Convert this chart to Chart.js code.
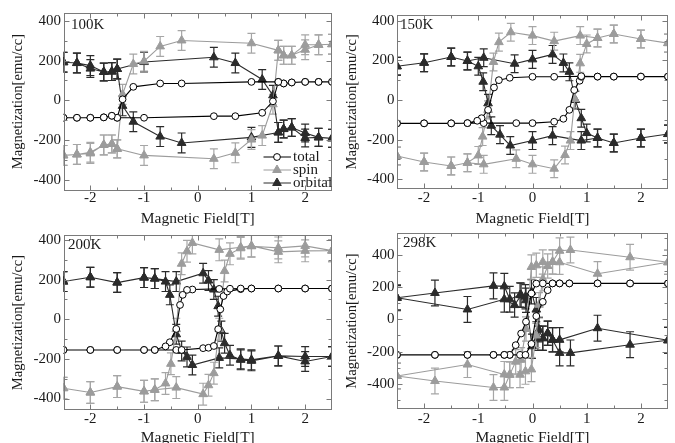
<!DOCTYPE html>
<html><head><meta charset="utf-8">
<script src="https://cdn.jsdelivr.net/npm/chart.js@4.4.0/dist/chart.umd.min.js"></script>
<style>
html,body{margin:0;padding:0;background:#fff;overflow:hidden;width:675px;height:443px;position:relative}
canvas{position:absolute}
</style></head><body>
<canvas id="c1"></canvas><canvas id="c2"></canvas><canvas id="c3"></canvas><canvas id="c4"></canvas>
<script>
// ---- tick labels ----
const fieldTicks = [-2, -1, 0, 1, 2];
const fieldMinor = [-1.5, -0.5, 0.5, 1.5];
const magTicks = [-400, -200, 0, 200, 400];
const magMinor = [-500, -300, -100, 100, 300, 500];
const seriesNames = ['total', 'spin', 'orbital'];
const panelLabels = ['100K', '150K', '200K', '298K'];
const xTitle = 'Magnetic Field[T]';
const yTitle = 'Magnetization[emu/cc]';

// ---- data: [field (T), magnetization (emu/cc), error] ; Up = field rising, Down = field falling ----
const total100Up = [[-2.5,-88],[-2.25,-88],[-2.0,-88],[-1.75,-86],[-1.6,-78],[-1.5,-88],[-1.0,-88],[0.3,-80],[0.7,-80],[1.2,-63],[1.4,-5],[1.5,93],[1.6,85],[1.75,90],[2.0,93],[2.25,93],[2.5,93]];
const total100Down = [[2.5,93],[2.25,93],[2.0,93],[1.75,90],[1.6,85],[1.5,93],[1.0,93],[-0.3,85],[-0.7,85],[-1.2,68],[-1.4,5],[-1.5,-88],[-1.6,-78],[-1.75,-86],[-2.0,-88],[-2.25,-88],[-2.5,-88]];
const spin100Up = [[-2.5,-278,50],[-2.25,-273,50],[-2.0,-262,50],[-1.75,-225,50],[-1.6,-220,45],[-1.5,-245,45],[-1.0,-278,50],[0.3,-295,50],[0.7,-265,50],[1.0,-198,50],[1.2,-178,50],[1.4,-20,50],[1.5,252,50],[1.6,227,45],[1.75,227,45],[2.0,255,50],[2.25,280,50],[2.5,283,50]];
const spin100Down = [[2.5,283,50],[2.25,280,50],[2.0,280,50],[1.75,227,45],[1.6,227,45],[1.5,252,50],[1.0,288,50],[-0.3,302,50],[-0.7,272,50],[-1.0,197,50],[-1.2,183,50],[-1.4,30,50],[-1.5,-245,45],[-1.6,-220,45],[-1.75,-225,50],[-2.0,-268,50],[-2.25,-273,50],[-2.5,-278,50]];
const orbital100Up = [[-2.5,192,50],[-2.25,188,50],[-2.0,175,50],[-1.75,143,45],[-1.6,145,45],[-1.5,158,50],[-1.0,193,50],[0.3,217,50],[0.7,188,50],[1.2,105,50],[1.4,25,50],[1.5,-162,50],[1.6,-145,45],[1.75,-137,45],[2.0,-165,45],[2.25,-187,45],[2.5,-192,45]];
const orbital100Down = [[2.5,-192,45],[2.25,-187,45],[2.0,-190,45],[1.75,-137,45],[1.6,-145,45],[1.5,-162,50],[1.0,-187,50],[-0.3,-215,50],[-0.7,-183,50],[-1.2,-108,50],[-1.4,-28,50],[-1.5,158,50],[-1.6,145,45],[-1.75,143,45],[-2.0,160,45],[-2.25,188,50],[-2.5,192,50]];

const total150Up = [[-2.5,-118],[-2.0,-118],[-1.5,-118],[-1.2,-117],[-0.9,-117],[-0.3,-117],[0,-117],[0.4,-110],[0.57,-95],[0.68,-50],[0.77,50],[0.87,97],[0.9,117],[1.2,118],[1.5,118],[2.0,118],[2.5,118]];
const total150Down = [[2.5,118],[2.0,118],[1.5,118],[1.2,118],[0.9,120],[0.4,117],[0,117],[-0.42,112],[-0.62,100],[-0.71,63],[-0.82,-50],[-0.94,-92],[-1.02,-105],[-1.2,-117],[-1.5,-118],[-2.0,-118],[-2.5,-118]];
const spin150Up = [[-2.5,-283,45],[-2.0,-313,45],[-1.5,-333,45],[-1.2,-317,45],[-0.9,-325,45],[-0.3,-297,45],[0,-325,45],[0.4,-347,45],[0.6,-278,45],[0.7,-205,45],[0.78,5,45],[0.88,185,45],[1.0,283,45],[1.2,313,45],[1.5,333,45],[2.0,308,45],[2.5,287,45]];
const spin150Down = [[2.5,287,45],[2.0,308,45],[1.5,333,45],[1.2,313,45],[0.88,325,45],[0.4,297,45],[0,325,45],[-0.4,342,45],[-0.62,292,45],[-0.72,192,45],[-0.82,-50,45],[-0.92,-185,45],[-1.0,-280,45],[-1.2,-317,45],[-1.5,-333,45],[-2.0,-313,45],[-2.5,-283,45]];
const orbital150Up = [[-2.5,170,45],[-2.0,188,45],[-1.5,217,45],[-1.2,197,45],[-0.9,213,45],[-0.33,183,45],[0,205,45],[0.37,230,45],[0.57,187,45],[0.68,142,45],[0.79,0,45],[0.9,-92,45],[1.0,-167,45],[1.2,-192,45],[1.5,-217,45],[2.0,-192,45],[2.5,-172,45]];
const orbital150Down = [[2.5,-172,45],[2.0,-192,45],[1.5,-217,45],[1.2,-192,45],[0.9,-205,45],[0.37,-180,45],[0,-205,45],[-0.41,-230,45],[-0.6,-175,45],[-0.76,-130,45],[-0.82,-17,45],[-0.91,92,45],[-1.0,170,45],[-1.2,197,45],[-1.5,217,45],[-2.0,188,45],[-2.5,170,45]];

const total200Up = [[-2.5,-155],[-2.0,-155],[-1.5,-155],[-1.0,-155],[-0.8,-155],[-0.4,-155],[-0.3,-155],[0.1,-146],[0.2,-144],[0.3,-135],[0.38,-50],[0.42,50],[0.48,117],[0.55,140],[0.8,152],[1.0,155],[1.5,155],[2.0,155],[2.5,155]];
const total200Down = [[2.5,155],[2.0,155],[1.5,155],[1.0,155],[0.8,155],[0.6,154],[0.4,153],[-0.1,150],[-0.2,148],[-0.28,123],[-0.33,72],[-0.4,-49],[-0.52,-116],[-0.6,-137],[-0.8,-155],[-1.0,-155],[-1.5,-155],[-2.0,-155],[-2.5,-155]];
const spin200Up = [[-2.5,-348,55],[-2.0,-370,55],[-1.5,-340,55],[-1.0,-364,55],[-0.8,-356,55],[-0.4,-345,55],[0.1,-378,55],[0.2,-333,55],[0.3,-272,55],[0.4,-50,55],[0.5,243,55],[0.6,330,55],[0.8,358,55],[1.0,368,55],[1.5,360,55],[2.0,370,55],[2.5,346,55]];
const spin200Down = [[2.5,346,55],[2.0,345,55],[1.5,340,55],[1.0,370,55],[0.8,363,55],[0.4,350,55],[-0.1,385,55],[-0.2,343,55],[-0.3,280,55],[-0.4,-50,55],[-0.5,-225,55],[-0.6,-324,55],[-0.8,-356,55],[-1.0,-364,55],[-1.5,-340,55],[-2.0,-370,55],[-2.5,-348,55]];
const orbital200Up = [[-2.5,190,50],[-2.0,212,50],[-1.5,185,50],[-1.0,210,50],[-0.8,205,50],[-0.4,190,50],[0.1,232,50],[0.2,195,50],[0.3,150,50],[0.38,66,50],[0.44,-60,50],[0.5,-121,50],[0.6,-182,50],[0.8,-205,50],[1.0,-210,50],[1.5,-185,50],[2.0,-213,50],[2.5,-188,50]];
const orbital200Down = [[2.5,-188,50],[2.0,-188,50],[1.5,-185,50],[1.0,-205,50],[0.8,-200,50],[0.4,-195,50],[-0.1,-231,50],[-0.2,-190,50],[-0.3,-160,50],[-0.4,-76,50],[-0.52,123,50],[-0.6,190,50],[-0.8,205,50],[-1.0,210,50],[-1.5,185,50],[-2.0,212,50],[-2.5,190,50]];

const total298Up = [[-2.5,-220],[-1.8,-220],[-1.2,-220],[-0.72,-220],[-0.52,-220],[-0.42,-220],[-0.23,-220],[-0.13,-220],[-0.02,-152],[0.07,20],[0.19,108],[0.28,180],[0.37,222],[0.5,222],[0.68,222],[1.2,222],[1.8,222],[2.5,222]];
const total298Down = [[2.5,222],[1.8,222],[1.2,222],[0.68,222],[0.5,222],[0.37,222],[0.19,222],[0.07,221],[-0.02,160],[-0.12,-15],[-0.21,-88],[-0.31,-160],[-0.42,-220],[-0.52,-220],[-0.72,-220],[-1.2,-220],[-1.8,-220],[-2.5,-220]];
const spin298Up = [[-2.5,-351,80],[-1.8,-382,80],[-0.72,-422,80],[-0.52,-422,80],[-0.42,-343,80],[-0.23,-343,80],[-0.13,-322,80],[-0.02,-310,75],[0.07,-100,75],[0.12,90,75],[0.19,250,75],[0.28,330,75],[0.37,355,75],[0.5,353,75],[1.2,282,75],[2.5,353,75]];
const spin298Down = [[2.5,353,75],[1.8,384,80],[0.7,429,80],[0.5,424,80],[0.37,355,75],[0.19,355,75],[0.07,334,75],[-0.02,324,75],[-0.12,-60,75],[-0.21,-250,75],[-0.31,-262,75],[-0.42,-343,80],[-0.52,-341,80],[-1.2,-280,80],[-2.5,-351,80]];
const orbital298Up = [[-2.5,133,75],[-1.8,163,80],[-0.72,207,80],[-0.52,204,80],[-0.42,124,80],[-0.23,150,75],[-0.13,140,75],[-0.02,170,75],[0.07,60,75],[0.12,-65,75],[0.19,-117,75],[0.28,-86,75],[0.37,-127,75],[0.5,-127,75],[1.2,-55,80],[2.5,-130,80]];
const orbital298Down = [[2.5,-130,80],[1.8,-157,80],[0.7,-208,80],[0.5,-208,80],[0.37,-127,75],[0.28,-86,75],[0.19,-117,75],[0.1,-117,75],[-0.01,-167,75],[-0.12,118,75],[-0.21,149,75],[-0.33,88,75],[-0.52,124,80],[-1.2,61,80],[-2.5,133,80]];

// ---- styles ----
const FONT = '"Liberation Serif","Times New Roman",serif';
const TXT = '#1a1a1a';
const FRAME = '#7a7a7a';
const STY = {
  total:   {line:'#000000', fill:'#ffffff', stroke:'#000000', shape:'circle',   r:3.4, err:'#000000'},
  spin:    {line:'#9c9c9c', fill:'#9c9c9c', stroke:'#9c9c9c', shape:'triangle', r:5.0, err:'#a6a6a6'},
  orbital: {line:'#2b2b2b', fill:'#2b2b2b', stroke:'#2b2b2b', shape:'triangle', r:5.0, err:'#2b2b2b'}
};

const panels = [
  {id:'c1', label:panelLabels[0], cv:{l:0,t:0,w:338,h:230}, area:{l:63.5,t:12.5,r:336,b:190.5}, yMin:-455, yMax:443,
   xTitlePad:2, xTickPad:0.3, lab:[71,25], legend:true,
   data:{total:total100Up.concat(total100Down), spin:spin100Up.concat(spin100Down), orbital:orbital100Up.concat(orbital100Down)}},
  {id:'c2', label:panelLabels[1], cv:{l:334,t:0,w:340,h:230}, area:{l:397,t:15,r:669.5,b:188.5}, yMin:-447, yMax:429,
   xTitlePad:2, xTickPad:2.3, lab:[400,25], legend:false,
   data:{total:total150Up.concat(total150Down), spin:spin150Up.concat(spin150Down), orbital:orbital150Up.concat(orbital150Down)}},
  {id:'c3', label:panelLabels[2], cv:{l:0,t:222,w:338,h:230}, area:{l:63.5,t:235,r:336,b:410}, yMin:-458, yMax:425,
   xTitlePad:5, xTickPad:1.8, lab:[68,245], legend:false,
   data:{total:total200Up.concat(total200Down), spin:spin200Up.concat(spin200Down), orbital:orbital200Up.concat(orbital200Down)}},
  {id:'c4', label:panelLabels[3], cv:{l:334,t:222,w:340,h:230}, area:{l:397,t:233,r:669.5,b:409}, yMin:-555, yMax:534,
   xTitlePad:5, xTickPad:2.8, lab:[403,243], legend:false,
   data:{total:total298Up.concat(total298Down), spin:spin298Up.concat(spin298Down), orbital:orbital298Up.concat(orbital298Down)}}
];

function toPts(arr){ return arr.map(p => ({x:p[0], y:p[1], e:(p.length > 2 ? p[2] : 0)})); }

function drawMarker(ctx, s, x, y){
  ctx.save();
  ctx.fillStyle = s.fill; ctx.strokeStyle = s.stroke; ctx.lineWidth = 1;
  ctx.beginPath();
  if (s.shape === 'circle') {
    ctx.arc(x, y, s.r, 0, Math.PI*2);
  } else {
    const r = s.r;
    ctx.moveTo(x, y - r);
    ctx.lineTo(x + r*Math.sin(2*Math.PI/3), y - r*Math.cos(2*Math.PI/3));
    ctx.lineTo(x + r*Math.sin(4*Math.PI/3), y - r*Math.cos(4*Math.PI/3));
    ctx.closePath();
  }
  ctx.fill(); ctx.stroke();
  ctx.restore();
}

const errPlugin = {
  id:'errbars',
  beforeDatasetsDraw(chart){
    const {ctx, chartArea:a} = chart;
    const ys = chart.scales.y;
    ctx.save();
    ctx.beginPath(); ctx.rect(a.left, a.top, a.right-a.left, a.bottom-a.top); ctx.clip();
    for (let d = chart.data.datasets.length - 1; d >= 0; d--) {
      const ds = chart.data.datasets[d];
      const meta = chart.getDatasetMeta(d);
      ctx.strokeStyle = ds.errColor; ctx.lineWidth = 1.2;
      ds.data.forEach((p, i) => {
        if (!p.e) return;
        const el = meta.data[i];
        const x = el.x;
        const y1 = ys.getPixelForValue(p.y + p.e), y2 = ys.getPixelForValue(p.y - p.e);
        ctx.beginPath();
        ctx.moveTo(x, y1); ctx.lineTo(x, y2);
        ctx.moveTo(x-4, y1); ctx.lineTo(x+4, y1);
        ctx.moveTo(x-4, y2); ctx.lineTo(x+4, y2);
        ctx.stroke();
      });
    }
    ctx.restore();
  }
};

const framePlugin = {
  id:'frame',
  afterDraw(chart, args, o){
    const {ctx, chartArea:a} = chart;
    const xs = chart.scales.x, ys = chart.scales.y;
    const L = Math.round(a.left)+0.5, R = Math.round(a.right)-0.5, T = Math.round(a.top)+0.5, B = Math.round(a.bottom)-0.5;
    ctx.save();
    ctx.strokeStyle = FRAME; ctx.lineWidth = 1;
    ctx.strokeRect(L, T, R-L, B-T);
    const tick = (vals, len) => {
      vals.forEach(v => {
        if (v <= xs.min || v >= xs.max) return;
        const px = Math.round(xs.getPixelForValue(v)) + 0.5;
        ctx.beginPath();
        ctx.moveTo(px, B); ctx.lineTo(px, B-len);
        ctx.moveTo(px, T); ctx.lineTo(px, T+len);
        ctx.stroke();
      });
    };
    const tickY = (vals, len) => {
      vals.forEach(v => {
        if (v <= ys.min || v >= ys.max) return;
        const py = Math.round(ys.getPixelForValue(v)) + 0.5;
        ctx.beginPath();
        ctx.moveTo(L, py); ctx.lineTo(L+len, py);
        ctx.moveTo(R, py); ctx.lineTo(R-len, py);
        ctx.stroke();
      });
    };
    tick(fieldTicks, 5); tick(fieldMinor, 3);
    tickY(magTicks, 5); tickY(magMinor, 3);
    // panel label
    ctx.fillStyle = TXT; ctx.font = '15px ' + FONT; ctx.textBaseline = 'middle'; ctx.textAlign = 'left';
    ctx.fillText(o.label, o.lab[0] - o.cv.l, o.lab[1] - o.cv.t);
    // legend
    if (o.legend) {
      const rows = [157, 170, 183];
      seriesNames.forEach((n, i) => {
        const s = STY[n];
        const y = rows[i] - o.cv.t;
        ctx.strokeStyle = s.line; ctx.lineWidth = 1;
        ctx.beginPath(); ctx.moveTo(263.5 - o.cv.l, y); ctx.lineTo(291 - o.cv.l, y); ctx.stroke();
        drawMarker(ctx, s, 277 - o.cv.l, y);
        ctx.fillStyle = TXT; ctx.font = '15px ' + FONT; ctx.textAlign = 'left'; ctx.textBaseline = 'middle';
        ctx.fillText(n, 293 - o.cv.l, y);
      });
    }
    ctx.restore();
  }
};

panels.forEach(P => {
  const cv = document.getElementById(P.id);
  cv.width = P.cv.w; cv.height = P.cv.h;
  cv.style.left = P.cv.l + 'px'; cv.style.top = P.cv.t + 'px';
  const datasets = seriesNames.map(n => {
    const s = STY[n];
    return {
      label:n, data:toPts(P.data[n]), showLine:true,
      borderColor:s.line, borderWidth:1.1, backgroundColor:s.fill,
      pointStyle:s.shape, pointRadius:s.r, pointBackgroundColor:s.fill, pointBorderColor:s.stroke, pointBorderWidth:1,
      pointHoverRadius:s.r, errColor:s.err, tension:0
    };
  });
  new Chart(cv, {
    type:'scatter',
    data:{datasets},
    plugins:[errPlugin, framePlugin],
    options:{
      responsive:false, animation:false, devicePixelRatio:1,
      layout:{padding:{left:0, bottom:0, top:P.area.t - P.cv.t, right:P.cv.w - (P.area.r - P.cv.l)}},
      events:[],
      plugins:{legend:{display:false}, tooltip:{enabled:false}, frame:{label:P.label, lab:P.lab, cv:P.cv, legend:P.legend}},
      scales:{
        x:{type:'linear', position:'bottom', min:-2.5, max:2.5,
           afterBuildTicks:s => { s.ticks = fieldTicks.map(v => ({value:v})); },
           afterFit:s => { s.height = P.cv.t + P.cv.h - P.area.b; },
           grid:{display:false, drawTicks:false}, border:{display:false},
           ticks:{font:{family:FONT, size:15, lineHeight:1}, color:TXT, padding:P.xTickPad, maxRotation:0, autoSkip:false, callback:v => String(v)},
           title:{display:true, text:xTitle, font:{family:FONT, size:15.5, lineHeight:1.2}, color:TXT, padding:{top:0, bottom:P.xTitlePad}}},
        y:{type:'linear', position:'left', min:P.yMin, max:P.yMax,
           afterBuildTicks:s => { s.ticks = magTicks.map(v => ({value:v})); },
           afterFit:s => { s.width = P.area.l - P.cv.l; },
           grid:{display:false, drawTicks:false}, border:{display:false},
           ticks:{font:{family:FONT, size:15, lineHeight:1}, color:TXT, padding:2.5, autoSkip:false, callback:v => String(v)},
           title:{display:true, text:yTitle, font:{family:FONT, size:14.5, lineHeight:1.2}, color:TXT, padding:{top:9.5, bottom:0}}}
      }
    }
  });
});
</script>
</body></html>
